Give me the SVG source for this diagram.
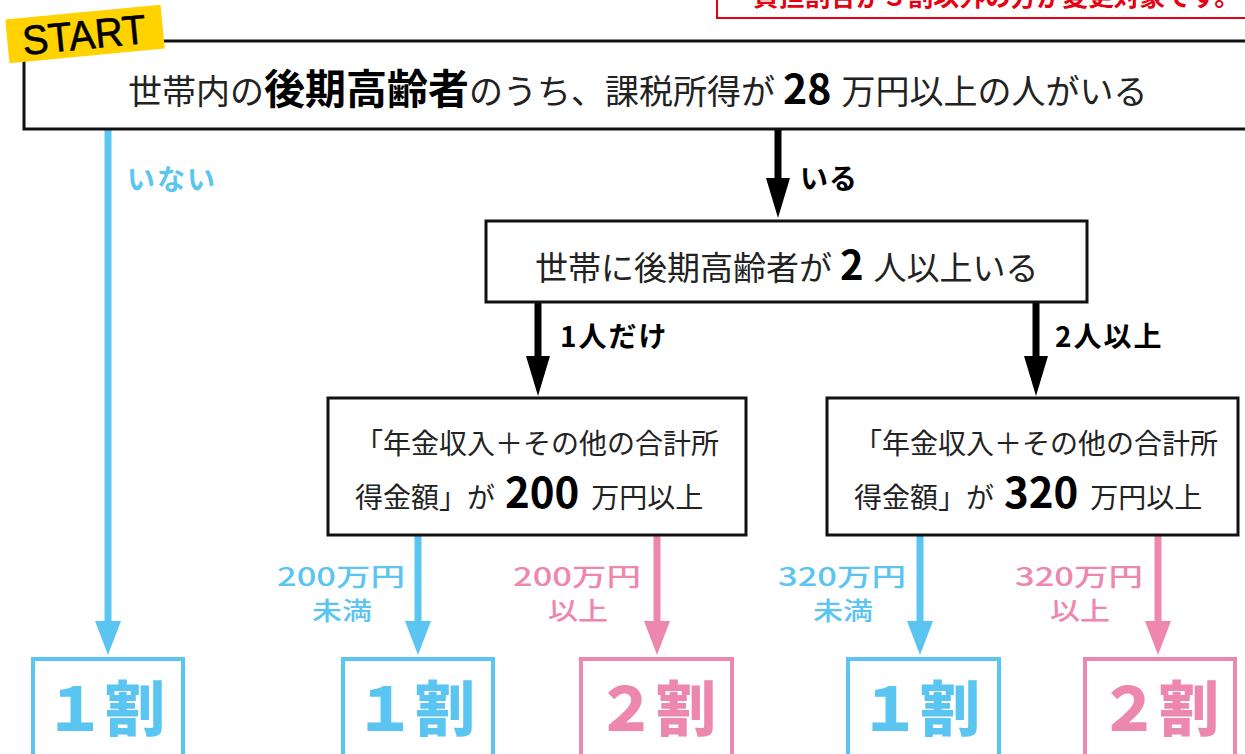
<svg xmlns="http://www.w3.org/2000/svg" width="1245" height="754" viewBox="0 0 1245 754">
<defs>
<style>
.jp{font-family:"Noto Sans CJK JP","Noto Sans",sans-serif;}
.box{fill:#fff;stroke:#111;stroke-width:3;}
.bbox{fill:#fff;stroke:#5BC5F2;stroke-width:4;}
.pbox{fill:#fff;stroke:#EE87AE;stroke-width:4;}
.lb{stroke:#5BC5F2;stroke-width:7;fill:none;}
.lp{stroke:#EE87AE;stroke-width:7;fill:none;}
.lk{stroke:#000;stroke-width:7;fill:none;}
.t{fill:#222;}
.b{font-weight:bold;fill:#000;}
.lab{font-size:28px;font-weight:bold;}
.clab{font-size:25px;font-weight:500;}
.big{font-size:60px;font-weight:900;}
.blue{fill:#5BC5F2;}
.pink{fill:#EE87AE;}
</style>
<marker id="mb" viewBox="0 0 34 26" refX="14" refY="13" markerWidth="34" markerHeight="26" markerUnits="userSpaceOnUse" orient="auto"><path d="M0,0 L34,13 L0,26 z" fill="#5BC5F2"/></marker>
<marker id="mp" viewBox="0 0 34 26" refX="14" refY="13" markerWidth="34" markerHeight="26" markerUnits="userSpaceOnUse" orient="auto"><path d="M0,0 L34,13 L0,26 z" fill="#EE87AE"/></marker>
<marker id="mk" viewBox="0 0 40 24" refX="18" refY="12" markerWidth="40" markerHeight="24" markerUnits="userSpaceOnUse" orient="auto"><path d="M0,0 L40,12 L0,24 z" fill="#000"/></marker>
</defs>
<rect width="1245" height="754" fill="#fff"/>

<g id="note">
<rect x="717" y="-20" width="600" height="38" fill="#fff" stroke="#E60012" stroke-width="2"/>
<text class="jp" x="753" y="6" font-size="25.5" font-weight="bold" fill="#E60012" textLength="487" lengthAdjust="spacingAndGlyphs">負担割合が３割以外の方が変更対象です。</text>
</g>

<g id="connectors">
<line class="lb" x1="108" y1="129" x2="108" y2="635" marker-end="url(#mb)"/>
<line class="lk" x1="778" y1="129" x2="778" y2="196" marker-end="url(#mk)"/>
<line class="lk" x1="538" y1="302" x2="538" y2="374" marker-end="url(#mk)"/>
<line class="lk" x1="1036" y1="302" x2="1036" y2="374" marker-end="url(#mk)"/>
<line class="lb" x1="418" y1="535" x2="418" y2="635" marker-end="url(#mb)"/>
<line class="lp" x1="657" y1="535" x2="657" y2="635" marker-end="url(#mp)"/>
<line class="lb" x1="920" y1="535" x2="920" y2="635" marker-end="url(#mb)"/>
<line class="lp" x1="1158" y1="535" x2="1158" y2="635" marker-end="url(#mp)"/>
<text class="jp lab blue" x="127" y="190" letter-spacing="2">いない</text>
<text class="jp lab" x="800" y="189" fill="#000" letter-spacing="1">いる</text>
<text class="jp lab" x="560" y="347" fill="#000" letter-spacing="2">1人だけ</text>
<text class="jp lab" x="1055" y="347" fill="#000" letter-spacing="2">2人以上</text>
<text class="jp clab blue" x="341" y="586" text-anchor="middle" textLength="128" lengthAdjust="spacingAndGlyphs">200万円</text>
<text class="jp clab blue" x="342" y="620" text-anchor="middle" textLength="60" lengthAdjust="spacingAndGlyphs">未満</text>
<text class="jp clab pink" x="577" y="586" text-anchor="middle" textLength="128" lengthAdjust="spacingAndGlyphs">200万円</text>
<text class="jp clab pink" x="578" y="620" text-anchor="middle" textLength="60" lengthAdjust="spacingAndGlyphs">以上</text>
<text class="jp clab blue" x="842" y="586" text-anchor="middle" textLength="128" lengthAdjust="spacingAndGlyphs">320万円</text>
<text class="jp clab blue" x="843" y="620" text-anchor="middle" textLength="60" lengthAdjust="spacingAndGlyphs">未満</text>
<text class="jp clab pink" x="1079" y="586" text-anchor="middle" textLength="128" lengthAdjust="spacingAndGlyphs">320万円</text>
<text class="jp clab pink" x="1080" y="620" text-anchor="middle" textLength="60" lengthAdjust="spacingAndGlyphs">以上</text>
</g>

<g id="start-node">
<rect class="box" x="24" y="41" width="1240" height="88"/>
<text class="jp t" x="128" y="104" font-size="34">世帯内の<tspan class="b" font-size="41">後期高齢者</tspan>のうち、課税所得が<tspan class="b" font-size="41" dx="8">28</tspan><tspan dx="10">万円以上の人がいる</tspan></text>
</g>

<g id="start-label" transform="translate(85,34) rotate(-5.5)">
<rect x="-78" y="-22" width="156" height="44" fill="#FFD200"/>
<text x="-63" y="15" font-family="Liberation Sans, Arial, sans-serif" font-size="41" fill="#000" stroke="#000" stroke-width="0.6" textLength="124" lengthAdjust="spacingAndGlyphs">START</text>
</g>

<g id="node-two">
<rect class="box" x="486" y="221" width="601" height="81"/>
<text class="jp t" x="535" y="280" font-size="33">世帯に後期高齢者が<tspan class="b" font-size="40" dx="8">2</tspan><tspan dx="10">人以上いる</tspan></text>
</g>

<g id="node-200">
<rect class="box" x="328" y="398" width="418" height="137"/>
<text class="jp t" x="355" y="454" font-size="28">「年金収入＋その他の合計所</text>
<text class="jp t" x="355" y="508" font-size="28">得金額」が<tspan class="b" font-size="42" dx="10">200</tspan><tspan dx="12">万円以上</tspan></text>
</g>

<g id="node-320">
<rect class="box" x="827" y="398" width="411" height="137"/>
<text class="jp t" x="854" y="454" font-size="28">「年金収入＋その他の合計所</text>
<text class="jp t" x="854" y="508" font-size="28">得金額」が<tspan class="b" font-size="42" dx="10">320</tspan><tspan dx="12">万円以上</tspan></text>
</g>

<g id="result-1">
<rect class="bbox" x="33" y="659" width="150" height="140"/>
<text class="jp big blue" x="105" y="731" text-anchor="middle">１割</text>
</g>
<g id="result-2">
<rect class="bbox" x="343" y="659" width="150" height="140"/>
<text class="jp big blue" x="415" y="731" text-anchor="middle">１割</text>
</g>
<g id="result-3">
<rect class="pbox" x="581" y="659" width="151" height="140"/>
<text class="jp big pink" x="656" y="731" text-anchor="middle">２割</text>
</g>
<g id="result-4">
<rect class="bbox" x="848" y="659" width="151" height="140"/>
<text class="jp big blue" x="920" y="731" text-anchor="middle">１割</text>
</g>
<g id="result-5">
<rect class="pbox" x="1085" y="659" width="150" height="140"/>
<text class="jp big pink" x="1159" y="731" text-anchor="middle">２割</text>
</g>
</svg>
